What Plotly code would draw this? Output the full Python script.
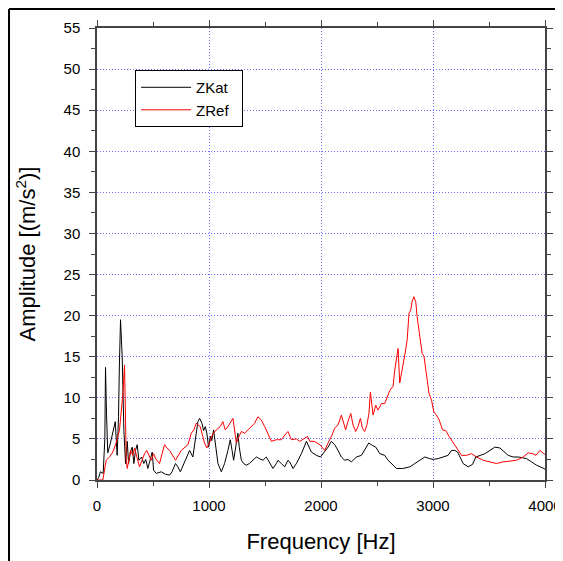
import plotly.graph_objects as go

zkat_f = [0, 15, 30, 55, 70, 76, 85, 96, 120, 141, 163, 180, 192, 200, 210, 225, 240, 255, 270, 282,
          300, 315, 329, 344, 359, 374, 398, 418, 435, 454, 475, 493, 505, 529, 574, 612, 648, 670,
          701, 722, 744, 770, 797, 827, 856, 880, 901, 916, 937, 952, 967, 981, 996, 1012, 1025, 1041,
          1059, 1080, 1110, 1139, 1169, 1190, 1206, 1220, 1244, 1258, 1270, 1289, 1310, 1333, 1360,
          1392, 1423, 1450, 1482, 1512, 1542, 1571, 1601, 1616, 1646, 1676, 1705, 1720, 1750, 1780,
          1825, 1870, 1914, 1959, 1995, 2033, 2063, 2093, 2122, 2152, 2182, 2212, 2240, 2272, 2316,
          2361, 2390, 2426, 2460, 2489, 2525, 2569, 2599, 2643, 2674, 2730, 2793, 2837, 2882, 2927,
          2971, 3001, 3045, 3090, 3135, 3165, 3195, 3220, 3246, 3269, 3314, 3353, 3383, 3418, 3463,
          3508, 3552, 3597, 3642, 3671, 3716, 3761, 3800, 3836, 3880, 3925, 3990, 4000]
zkat_v = [0, 0.3, 1.0, 0.8, 5.0, 13.7, 8.0, 3.3, 4.5, 6.0, 7.1, 3.0, 7.7, 14.0, 19.5, 15.0, 6.0, 2.0, 4.7, 2.0,
          3.5, 4.0, 2.0, 3.6, 4.3, 2.4, 2.8, 2.0, 2.5, 1.4, 2.4, 3.4, 1.2, 0.8, 1.0, 0.7, 0.6, 1.0,
          2.0, 1.6, 1.0, 1.8, 2.8, 3.6, 2.8, 5.3, 7.1, 7.5, 6.9, 6.0, 6.5, 5.7, 4.0, 5.3, 4.8, 6.1,
          3.9, 2.0, 1.0, 2.0, 3.6, 4.9, 3.6, 2.4, 4.5, 5.7, 4.0, 2.4, 2.0, 1.8, 2.0,
          2.4, 2.8, 2.6, 2.4, 2.8, 2.0, 1.4, 2.0, 2.4, 2.0, 1.6, 2.4, 2.2, 1.4, 2.0,
          3.2, 4.7, 3.4, 3.0, 2.8, 3.4, 4.0, 4.7, 4.3, 3.6, 2.8, 2.4, 2.5, 2.2, 2.8,
          3.0, 3.6, 4.5, 4.2, 4.0, 3.2, 3.0, 2.4, 1.8, 1.4, 1.4, 1.6, 2.0, 2.4, 2.8,
          2.6, 2.5, 2.6, 2.8, 3.0, 3.6, 3.6, 3.4, 2.6, 2.0, 1.6, 1.9, 2.8, 3.0, 3.2,
          3.6, 4.0, 3.9, 3.4, 3.0, 2.8, 2.8, 2.7, 2.6, 2.2, 1.8, 1.4, 1.3]

zref_f = [0, 52, 82, 112, 141, 171, 201, 216, 231, 246, 261, 270, 300, 320, 335, 356, 380, 424, 444,
          484, 505, 523, 558, 603, 624, 648, 672, 701, 752, 782, 812, 842, 865, 886, 922, 945, 960,
          981, 1005, 1029, 1065, 1100, 1124, 1145, 1169, 1214, 1229, 1244, 1268, 1289, 1318, 1348,
          1378, 1407, 1437, 1467, 1497, 1527, 1557, 1601, 1646, 1691, 1705, 1735, 1780, 1810, 1850,
          1880, 1900, 1940, 1990, 2018, 2033, 2063, 2093, 2122, 2152, 2182, 2202, 2220, 2240, 2266,
          2286, 2310, 2330, 2352, 2370, 2390, 2410, 2428, 2441, 2465, 2489, 2509, 2540, 2569, 2614,
          2643, 2659, 2674, 2688, 2703, 2727, 2748, 2769, 2786, 2802, 2813, 2829, 2846, 2858, 2882,
          2903, 2920, 2942, 2965, 2987, 3007, 3031, 3055, 3085, 3114, 3144, 3180, 3210, 3255, 3299,
          3344, 3389, 3448, 3508, 3567, 3626, 3686, 3746, 3805, 3850, 3892, 3919, 3954, 3984, 4000]
zref_v = [0, 0, 2.4, 2.8, 3.4, 4.5, 6.1, 8.1, 10.5, 14.0, 2.4, 1.4, 3.6, 3.0, 3.9, 2.8, 1.6, 3.2, 3.6,
          2.4, 3.2, 2.6, 2.0, 4.3, 3.9, 3.6, 3.0, 2.4, 3.6, 3.9, 4.3, 5.7, 6.1, 6.9, 6.5, 5.3, 4.5,
          3.9, 4.5, 5.5, 6.1, 6.5, 7.1, 6.1, 6.5, 7.5, 6.1, 4.5, 5.3, 5.9, 5.7, 6.1,
          6.5, 6.9, 7.7, 7.3, 6.5, 5.7, 4.7, 4.9, 4.9, 5.7, 5.9, 4.9, 5.0, 4.7, 5.0,
          5.3, 4.7, 4.7, 4.3, 3.9, 3.6, 4.5, 5.3, 6.3, 6.7, 7.9, 7.1, 6.1, 7.1, 8.1,
          6.7, 5.9, 6.5, 7.5, 6.3, 5.9, 6.7, 8.1, 10.7, 7.9, 9.1, 8.5, 9.3, 9.3, 10.9,
          11.4, 13.4, 14.6, 16.0, 11.8, 13.4, 15.2, 17.0, 20.3, 20.7, 21.7, 22.3, 21.7, 19.9, 17.8,
          15.4, 15.0, 13.0, 10.5, 9.7, 8.3, 7.9, 7.3, 6.1, 6.0, 5.3, 4.5, 3.9, 3.0, 3.0,
          3.2, 2.8, 2.4, 2.2, 2.0, 2.2, 2.3, 2.4, 2.8, 3.3, 3.2, 3.0, 3.6, 3.2, 3.1]

x_ticks = [0, 1000, 2000, 3000, 4000]
y_ticks = [0, 5, 10, 15, 20, 25, 30, 35, 40, 45, 50, 55]

fig = go.Figure()
fig.add_trace(go.Scatter(x=zkat_f, y=zkat_v, mode="lines", name="ZKat&nbsp;&nbsp;",
                         line=dict(color="black", width=1)))
fig.add_trace(go.Scatter(x=zref_f, y=zref_v, mode="lines", name="ZRef&nbsp;&nbsp;",
                         line=dict(color="red", width=1)))

FONT = "Liberation Sans, Arial, sans-serif"
axis_common = dict(showline=True, linecolor="#444", linewidth=1.5, mirror="ticks",
                   ticks="outside", ticklen=6, tickwidth=1.2, tickcolor="#444",
                   showgrid=True, gridcolor="rgba(60,60,255,0.75)", griddash="1px,2px", gridwidth=1,
                   zeroline=False, automargin=False,
                   tickfont=dict(family=FONT, size=15, color="black"))

fig.update_xaxes(range=[0, 4000], tickvals=x_ticks, ticktext=[str(v) for v in x_ticks],
                 ticklabelstandoff=5,
                 minor=dict(dtick=500, tick0=0, ticks="outside", ticklen=4, tickcolor="#444", showgrid=False),
                 title=dict(text="Frequency [Hz]", font=dict(family=FONT, size=22, color="black"), standoff=21),
                 **axis_common)
fig.update_yaxes(range=[0, 55], tickvals=y_ticks, ticktext=[str(v) for v in y_ticks],
                 ticklabelstandoff=6,
                 minor=dict(dtick=2.5, tick0=0, ticks="outside", ticklen=4, tickcolor="#444", showgrid=False),
                 title=dict(text="Amplitude [(m/s<sup>2</sup>)]", font=dict(family=FONT, size=22, color="black"), standoff=22),
                 **axis_common)

# outer frame (only left and top edges are visible in the picture)
fig.add_shape(type="line", xref="paper", yref="paper", x0=-0.1964, x1=-0.1964, y0=-0.25, y1=1.042,
              line=dict(color="black", width=2), layer="above")
fig.add_shape(type="line", xref="paper", yref="paper", x0=-0.1964, x1=1.1, y0=1.042, y1=1.042,
              line=dict(color="black", width=2), layer="above")

fig.update_layout(
    width=563, height=561,
    margin=dict(l=89, r=26, t=20, b=89),
    paper_bgcolor="white", plot_bgcolor="white",
    showlegend=True,
    legend=dict(x=0.085, y=0.907, xanchor="left", yanchor="top",
                bordercolor="black", borderwidth=1, bgcolor="white",
                font=dict(family=FONT, size=15, color="black"),
                itemwidth=50, tracegroupgap=0),
    font=dict(family=FONT),
)

fig.write_html("out.html")
